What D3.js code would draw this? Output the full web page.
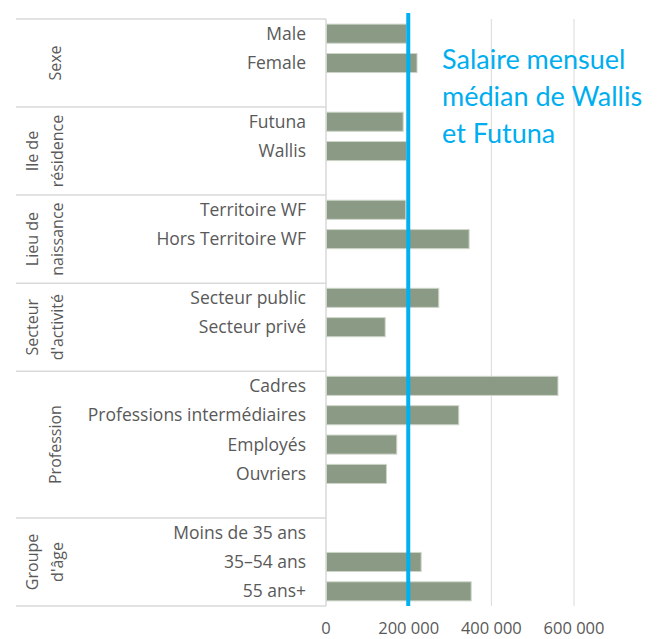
<!DOCTYPE html>
<html>
<head>
<meta charset="utf-8">
<script src="https://cdn.jsdelivr.net/npm/d3@7"></script>
<style>
  body { margin: 0; background: #fff; }
</style>
</head>
<body>
<div id="chart"></div>
<script>
// Salaire mensuel par catégorie, Wallis et Futuna
const groupNames = [["Sexe"], ["Ile de", "résidence"], ["Lieu de", "naissance"], ["Secteur", "d'activité"], ["Profession"], ["Groupe", "d'âge"]];
const groupCategories = [
    ["Male", "Female"],
    ["Futuna", "Wallis"],
    ["Territoire WF", "Hors Territoire WF"],
    ["Secteur public", "Secteur privé"],
    ["Cadres", "Professions intermédiaires", "Employés", "Ouvriers"],
    ["Moins de 35 ans", "35–54 ans", "55 ans+"]
];
const salaries = [
    [193500, 219000],
    [185500, 193500],
    [191800, 345000],
    [271600, 142000],
    [560000, 320000, 170000, 145000],
    [null, 229000, 350000]
];
const medianSalary = 199000;
const medianLabel = ["Salaire mensuel", "médian de Wallis", "et Futuna"];
const xTicks = [0, 200000, 400000, 600000];

(function() {
    const width = 660, height = 639;
    const left = 326, top = 19, bottom = 606, tableLeft = 16;

    // one row per category, plus an empty row between groups
    const rows = [];
    const groupSpans = [];
    groupCategories.forEach((cats, g) => {
        const start = rows.length;
        cats.forEach((c, i) => rows.push({id: "r" + rows.length, name: c, value: salaries[g][i]}));
        if (g < groupCategories.length - 1) rows.push({id: "r" + rows.length, name: "", value: null});
        groupSpans.push({names: groupNames[g], start: start, end: rows.length});
    });

    const svg = d3.select("#chart").append("svg")
        .attr("width", width)
        .attr("height", height)
        .style("font-family", "'Open Sans', sans-serif");

    const y = d3.scaleBand()
        .domain(rows.map(d => d.id))
        .range([top, bottom])
        .paddingInner(0.35)
        .paddingOuter(0.175);

    const x = d3.scaleLinear()
        .domain([0, 600000])
        .range([left, left + 248]);

    const step = y.step();
    const rowTop = i => top + i * step;

    // gridlines
    svg.append("g")
        .selectAll("line")
        .data(xTicks.slice(1))
        .join("line")
        .attr("x1", d => x(d)).attr("x2", d => x(d))
        .attr("y1", top).attr("y2", bottom)
        .attr("stroke", "#d9d9d9")
        .attr("stroke-width", 1);

    // category table lines
    const table = svg.append("g").attr("stroke", "#d9d9d9").attr("stroke-width", 1.5);
    const bounds = [top].concat(groupSpans.map(s => rowTop(s.end)));
    table.selectAll("line.h")
        .data(bounds)
        .join("line")
        .attr("class", "h")
        .attr("x1", tableLeft).attr("x2", left)
        .attr("y1", d => d).attr("y2", d => d);
    table.append("line")
        .attr("x1", left).attr("x2", left)
        .attr("y1", top).attr("y2", bottom);

    // bars
    svg.append("g")
        .selectAll("rect")
        .data(rows.filter(d => d.value != null))
        .join("rect")
        .attr("x", x(0) + 0.5)
        .attr("y", d => y(d.id))
        .attr("width", d => x(d.value) - x(0))
        .attr("height", y.bandwidth())
        .attr("fill", "#8a9a84")
        .attr("stroke", "#cdd5c9")
        .attr("stroke-width", 1);

    // category labels
    svg.append("g")
        .selectAll("text")
        .data(rows.filter(d => d.name))
        .join("text")
        .attr("x", 306)
        .attr("y", d => y(d.id) + y.bandwidth() / 2)
        .attr("dy", "0.35em")
        .attr("text-anchor", "end")
        .attr("font-size", 17.5)
        .attr("fill", "#595959")
        .text(d => d.name);

    // group labels (rotated)
    groupSpans.forEach(s => {
        const cy = (rowTop(s.start) + rowTop(s.end)) / 2;
        const xs = s.names.length === 1 ? [55] : [32, 57];
        s.names.forEach((n, i) => {
            svg.append("text")
                .attr("transform", `translate(${xs[i]},${cy}) rotate(-90)`)
                .attr("text-anchor", "middle")
                .attr("dy", "0.35em")
                .attr("font-size", 16)
                .attr("fill", "#595959")
                .text(n);
        });
    });

    // x axis labels
    const fmt = d3.formatLocale({decimal: ",", thousands: "\u00a0", grouping: [3], currency: ["", " €"]}).format(",");
    svg.append("g")
        .selectAll("text")
        .data(xTicks)
        .join("text")
        .attr("x", d => x(d))
        .attr("y", 633.5)
        .attr("text-anchor", "middle")
        .attr("font-size", 16.5)
        .attr("fill", "#595959")
        .text(d => fmt(d));

    // median line
    svg.append("line")
        .attr("x1", x(medianSalary)).attr("x2", x(medianSalary))
        .attr("y1", 13).attr("y2", bottom)
        .attr("stroke", "#00b0f0")
        .attr("stroke-width", 4);

    svg.append("g")
        .selectAll("text")
        .data(medianLabel)
        .join("text")
        .attr("x", 442)
        .attr("y", (d, i) => 60 + i * 36.7)
        .attr("dy", "0.35em")
        .attr("font-family", "Lato, sans-serif")
        .attr("font-size", 27)
        .attr("fill", "#00aeef")
        .text(d => d);
})();
</script>
</body>
</html>
